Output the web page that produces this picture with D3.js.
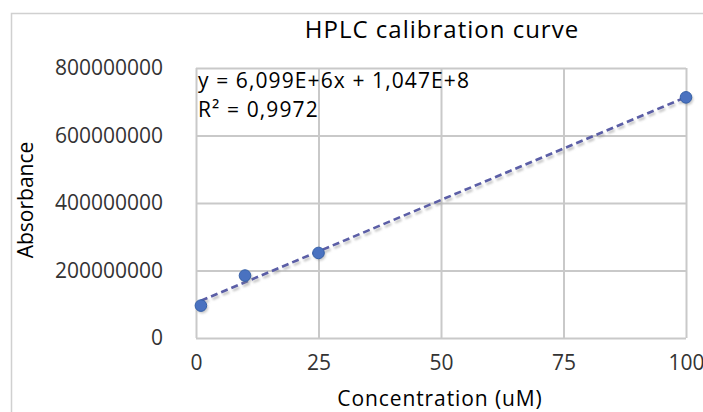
<!DOCTYPE html>
<html>
<head>
<meta charset="utf-8">
<script src="https://cdn.jsdelivr.net/npm/d3@7"></script>
<style>
  html, body { margin: 0; padding: 0; background: #fff; }
  svg { display: block; font-family: "Open Sans", sans-serif; }
</style>
</head>
<body>
<svg id="chart" width="703" height="412"></svg>
<script>
// calibration points
const concentrations = [1, 10, 25, 100];
const absorbances = [96e6, 185e6, 252e6, 713e6];
const xTicks = [0, 25, 50, 75, 100];
const yTicks = [0, 2e8, 4e8, 6e8, 8e8];
const equationLines = ["y = 6,099E+6x + 1,047E+8", "R\u00b2 = 0,9972"];
const chartTitle = "HPLC calibration curve";
const xTitle = "Concentration (uM)";
const yTitle = "Absorbance";

const width = 703, height = 412;
const margin = { top: 68, right: 17, bottom: 74, left: 196 };
const innerWidth = width - margin.left - margin.right;
const innerHeight = height - margin.top - margin.bottom;
const gridColor = "#c9c9c9";
const textColor = "#333";

const svg = d3.select("#chart");

// shadow filter for the trendline / markers
const defs = svg.append("defs");
defs.append("filter")
  .attr("id", "soft")
  .attr("x", "-20%").attr("y", "-20%").attr("width", "140%").attr("height", "140%")
  .append("feGaussianBlur")
  .attr("stdDeviation", 1.2);

// outer chart frame (only the left and top edges are inside the picture)
svg.append("path")
  .attr("d", `M11.5,${height} V13.5 H${width}`)
  .attr("fill", "none")
  .attr("stroke", "#d0d0d0")
  .attr("stroke-width", 1.5);

const xScale = d3.scaleLinear().domain([0, 100]).range([0, innerWidth]);
const yScale = d3.scaleLinear().domain([0, 8e8]).range([innerHeight, 0]);

const chart = svg.append("g")
  .attr("transform", `translate(${margin.left}, ${margin.top})`);

// axes with gridlines
const xAxis = chart.append("g")
  .attr("transform", `translate(0, ${innerHeight})`)
  .call(d3.axisBottom(xScale).tickValues(xTicks).tickSize(-innerHeight).tickPadding(17).tickFormat(d3.format("d")));

const yAxis = chart.append("g")
  .call(d3.axisLeft(yScale).tickValues(yTicks).tickSize(-innerWidth).tickPadding(33).tickFormat(d3.format("d")));

[xAxis, yAxis].forEach(ax => {
  ax.select(".domain").remove();
  ax.selectAll(".tick line")
    .attr("stroke", gridColor)
    .attr("stroke-width", 2);
  ax.selectAll(".tick text")
    .attr("fill", textColor)
    .style("font-size", "21px")
    .style("font-family", "'Open Sans', sans-serif");
});

// least squares trendline from the data
const mx = d3.mean(concentrations), my = d3.mean(absorbances);
const sxy = d3.sum(concentrations, (x, i) => (x - mx) * (absorbances[i] - my));
const sxx = d3.sum(concentrations, x => (x - mx) * (x - mx));
const slope = sxy / sxx;
const intercept = my - slope * mx;
const trend = d3.extent(concentrations).map(x => [x, slope * x + intercept]);

const line = d3.line()
  .x(d => xScale(d[0]))
  .y(d => yScale(d[1]));

chart.append("path")
  .datum(trend)
  .attr("fill", "none")
  .attr("stroke", "#9a9a9a")
  .attr("stroke-opacity", 0.6)
  .attr("stroke-width", 2.5)
  .attr("stroke-dasharray", "7,4")
  .attr("transform", "translate(1.5, 2.5)")
  .attr("filter", "url(#soft)")
  .attr("d", line);

chart.append("path")
  .datum(trend)
  .attr("fill", "none")
  .attr("stroke", "#5b5ea6")
  .attr("stroke-width", 2.6)
  .attr("stroke-dasharray", "7,4")
  .attr("d", line);

// markers
const points = concentrations.map((x, i) => ({ x, y: absorbances[i] }));

chart.selectAll(".shadow")
  .data(points)
  .join("circle")
  .attr("class", "shadow")
  .attr("cx", d => xScale(d.x) + 1.5)
  .attr("cy", d => yScale(d.y) + 2)
  .attr("r", 5.8)
  .attr("fill", "#888")
  .attr("opacity", 0.45)
  .attr("filter", "url(#soft)");

chart.selectAll(".dot")
  .data(points)
  .join("circle")
  .attr("class", "dot")
  .attr("cx", d => xScale(d.x))
  .attr("cy", d => yScale(d.y))
  .attr("r", 5.8)
  .attr("fill", "#4a72c0")
  .attr("stroke", "#3560a8")
  .attr("stroke-width", 1);

// trendline equation
chart.selectAll(".eq")
  .data(equationLines)
  .join("text")
  .attr("class", "eq")
  .attr("x", 2)
  .attr("y", (d, i) => 20 + i * 29)
  .attr("fill", "#000")
  .style("font-size", "21px")
  .style("letter-spacing", "1.1px")
  .text(d => d);

// title
svg.append("text")
  .attr("x", 442)
  .attr("y", 38)
  .attr("text-anchor", "middle")
  .attr("fill", "#000")
  .style("font-size", "24px")
  .style("letter-spacing", "1px")
  .text(chartTitle);

// x axis title
svg.append("text")
  .attr("x", 440)
  .attr("y", 406)
  .attr("text-anchor", "middle")
  .attr("fill", "#000")
  .style("font-size", "21px")
  .style("letter-spacing", "0.9px")
  .text(xTitle);

// y axis title
svg.append("text")
  .attr("transform", "rotate(-90)")
  .attr("x", -200)
  .attr("y", 33)
  .attr("text-anchor", "middle")
  .attr("fill", "#000")
  .style("font-size", "21px")
  .text(yTitle);
</script>
</body>
</html>
